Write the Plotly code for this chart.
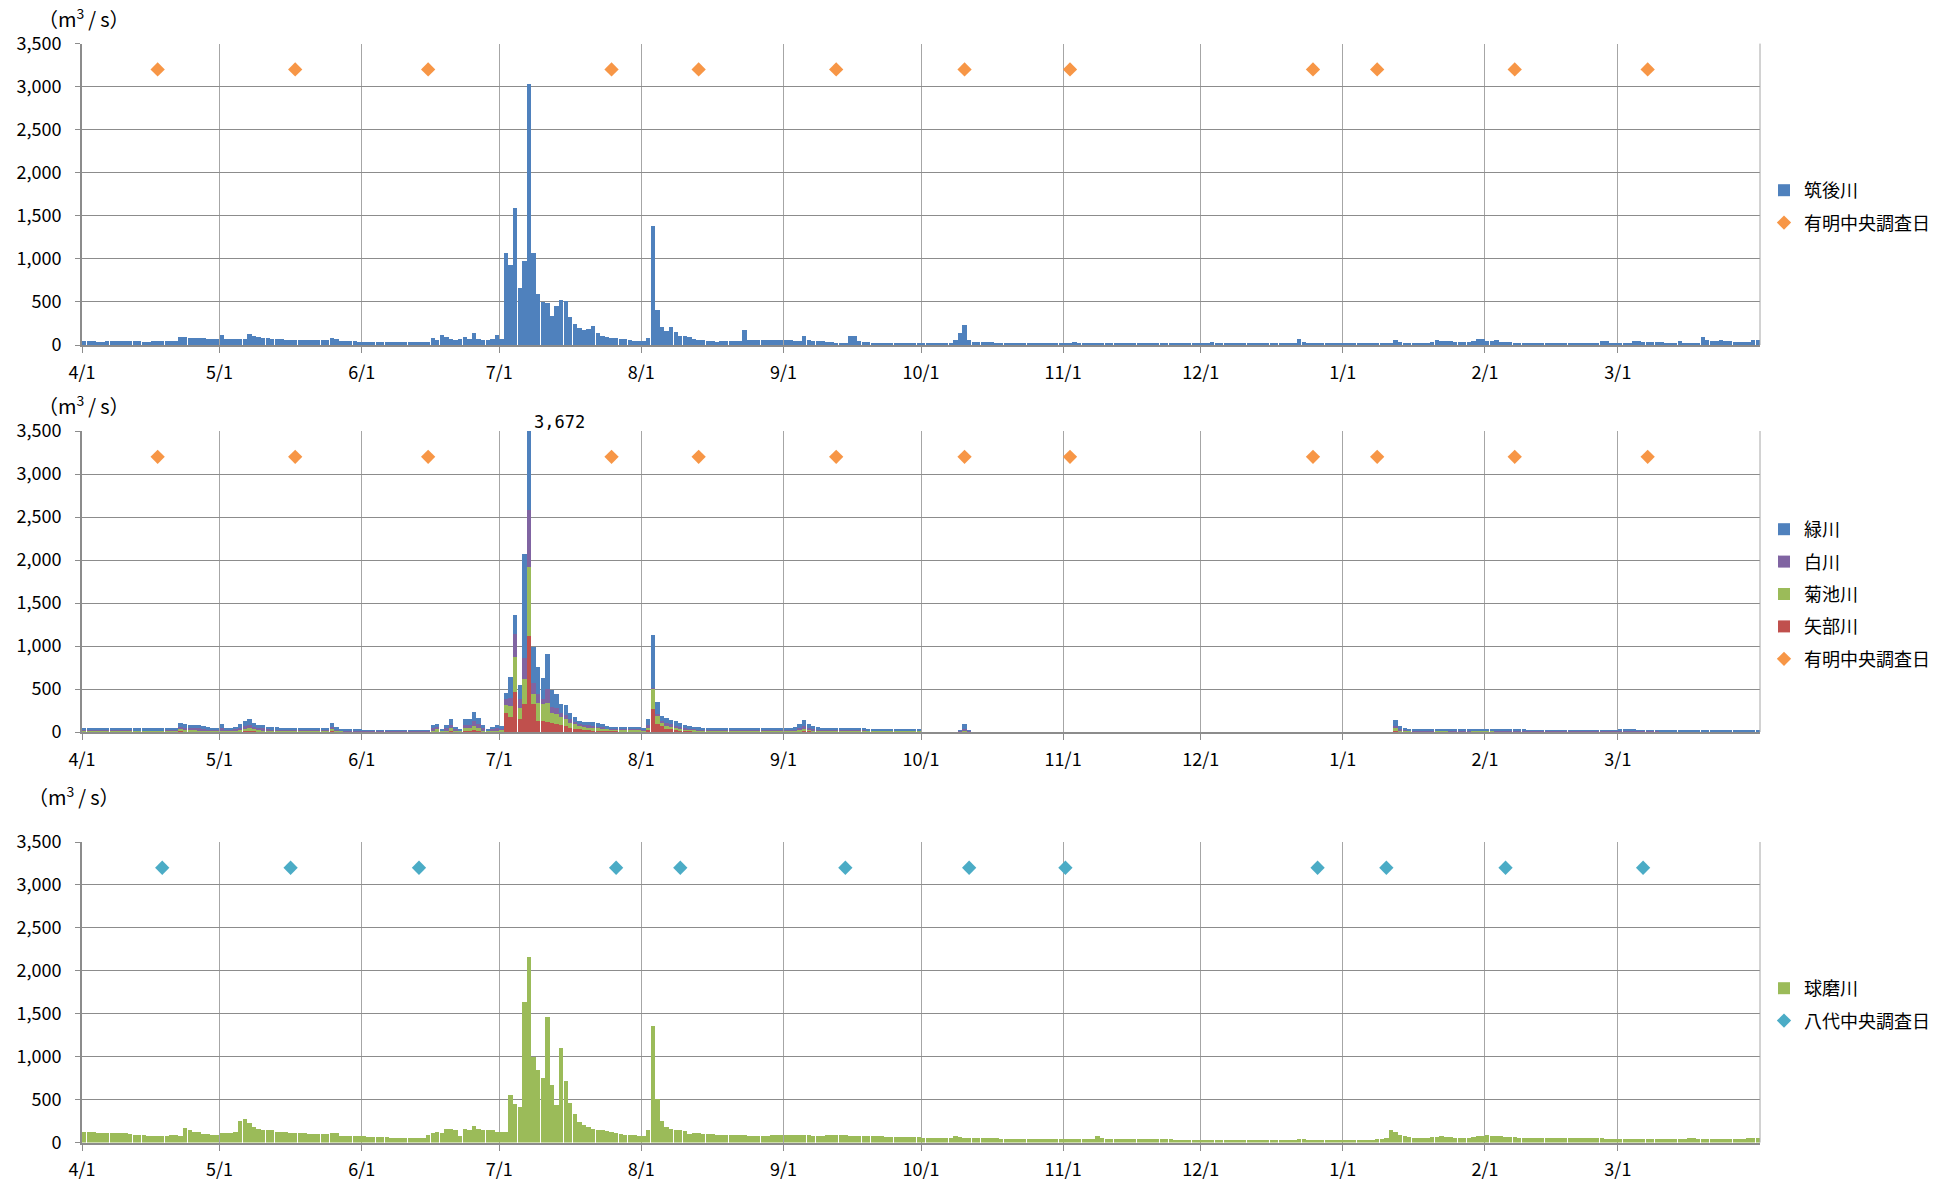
import pandas as pd
import plotly.graph_objects as go

# ---------------------------------------------------------------- data
# one fiscal year of daily mean discharge (m3/s), 4/1 .. 3/31 (366 days)
days = pd.date_range("2019-04-01", "2020-03-31", freq="D")

month_ticks = ["2019-04-01", "2019-05-01", "2019-06-01", "2019-07-01", "2019-08-01",
               "2019-09-01", "2019-10-01", "2019-11-01", "2019-12-01", "2020-01-01",
               "2020-02-01", "2020-03-01"]
month_labels = ["4/1", "5/1", "6/1", "7/1", "8/1", "9/1", "10/1", "11/1", "12/1",
                "1/1", "2/1", "3/1"]

# 筑後川
chikugo = (
    [42, 42, 41, 40, 40, 41, 42, 42, 43, 44, 44, 42, 41, 40, 40, 42, 44, 48, 50, 47,
     50, 95, 90, 86, 84, 80, 76, 72, 68, 66] +
    [120, 70, 65, 66, 68, 70, 124, 110, 92, 80, 85, 70, 70, 68, 60, 58, 57, 56, 55, 56,
     58, 60, 60, 60, 78, 70, 50, 48, 45, 42, 40] +
    [38, 36, 35, 35, 34, 33, 33, 33, 32, 32, 33, 34, 35, 36, 38, 85, 62, 120, 92, 65,
     62, 70, 97, 72, 143, 70, 58, 60, 65, 112] +
    [66, 1074, 934, 1593, 663, 973, 3035, 1066, 597, 496, 492, 341, 450, 523, 515, 330,
     244, 194, 174, 186, 225, 136, 108, 89, 85, 81, 74, 66, 58, 50, 47] +
    [43, 81, 1384, 407, 213, 167, 205, 147, 108, 108, 89, 70, 61, 58, 41, 41, 40, 41,
     42, 48, 50, 49, 175, 58, 56, 55, 54, 55, 57, 61, 61] +
    [55, 53, 52, 50, 106, 60, 52, 48, 45, 40, 32, 28, 28, 27, 102, 100, 41, 35, 30, 25,
     22, 21, 20, 20, 20, 20, 20, 20, 20, 20] +
    [20, 20, 20, 20, 20, 20, 22, 53, 142, 228, 57, 35, 33, 33, 32, 30, 25, 22, 20, 20,
     20, 20, 20, 20, 20, 20, 20, 20, 20, 20, 20] +
    [20, 20, 33, 20, 20, 20, 20, 20, 20, 20, 20, 20, 20, 20, 20, 20, 20, 20, 20, 20,
     20, 20, 20, 20, 20, 20, 20, 20, 20, 20] +
    [20, 20, 33, 20, 20, 20, 20, 20, 20, 20, 28, 28, 20, 20, 20, 20, 20, 20, 20, 20,
     20, 73, 40, 20, 20, 20, 20, 20, 20, 20, 20] +
    [20, 20, 20, 20, 20, 20, 20, 20, 20, 20, 20, 57, 33, 20, 20, 20, 20, 20, 20, 33,
     61, 45, 45, 45, 33, 33, 33, 33, 45, 65, 65] +
    [41, 41, 53, 37, 37, 37, 24, 24, 20, 20, 20, 20, 20, 20, 20, 20, 20, 20, 20, 20,
     20, 20, 20, 20, 20, 45, 45, 28, 20] +
    [28, 28, 28, 45, 45, 33, 33, 33, 33, 33, 28, 28, 28, 45, 28, 28, 28, 28, 90, 61,
     45, 45, 61, 45, 45, 33, 33, 33, 33, 61, 61]
)

# 矢部川
yabe = (
    [7, 7, 6, 6, 6, 6, 6, 6, 6, 6, 6, 5, 5, 5, 5, 5, 5, 5, 6, 6, 7, 12, 10, 9, 9, 8, 8,
     7, 7, 7] +
    [9, 7, 7, 7, 10, 14, 16, 12, 9, 9, 8, 7, 7, 7, 6, 6, 6, 6, 6, 6, 6, 6, 6, 8, 12, 7,
     5, 5, 4, 4, 4] +
    [4, 4, 4, 4, 3, 3, 3, 3, 3, 3, 3, 3, 3, 3, 3, 8, 10, 5, 8, 15, 6, 5, 15, 15, 20, 15,
     8, 5, 6, 8] +
    [10, 225, 175, 470, 148, 330, 1119, 322, 128, 128, 120, 109, 89, 82, 66, 50, 39, 31,
     23, 19, 17, 15, 14, 13, 12, 12, 11, 11, 10, 10, 10] +
    [8, 20, 264, 97, 70, 40, 30, 25, 20, 15, 12, 10, 9, 9, 8, 8, 8, 7, 7, 7, 7, 7, 7, 6,
     6, 6, 6, 6, 6, 6, 6] +
    [6, 6, 7, 10, 16, 12, 9, 8, 7, 7, 6, 6, 6, 6, 7, 7, 6, 6, 6, 6, 5, 5, 5, 5, 5, 5, 5,
     5, 5, 5] +
    [0, 0, 0, 0, 0, 0, 0, 0, 2, 5, 2, 0, 0, 0, 0, 0, 0, 0, 0, 0, 0, 0, 0, 0, 0, 0, 0, 0,
     0, 0, 0] +
    [0, 0, 0, 0, 0, 0, 0, 0, 0, 0, 0, 0, 0, 0, 0, 0, 0, 0, 0, 0, 0, 0, 0, 0, 0, 0, 0, 0,
     0, 0] +
    [0, 0, 0, 0, 0, 0, 0, 0, 0, 0, 0, 0, 0, 0, 0, 0, 0, 0, 0, 0, 0, 0, 0, 0, 0, 0, 0, 0,
     0, 0, 0] +
    [0, 0, 0, 0, 0, 0, 0, 0, 0, 0, 0, 15, 8, 6, 5, 4, 4, 4, 4, 4, 4, 5, 5, 4, 4, 4, 4, 4,
     4, 4, 5] +
    [5, 5, 4, 4, 4, 4, 4, 3, 3, 3, 3, 3, 3, 3, 3, 3, 3, 3, 3, 3, 3, 3, 3, 3, 3, 3, 3, 3,
     3] +
    [4, 4, 4, 4, 3, 3, 3, 3, 3, 2, 2, 2, 2, 2, 2, 2, 2, 2, 2, 2, 2, 2, 2, 2, 2, 2, 2, 2,
     2, 2, 2]
)

# 菊池川
kikuchi = (
    [10, 10, 10, 9, 9, 9, 9, 9, 9, 9, 9, 9, 8, 8, 8, 8, 8, 8, 9, 10, 10, 20, 16, 15, 15,
     14, 13, 10, 10, 10] +
    [14, 10, 10, 11, 18, 25, 28, 20, 15, 14, 12, 10, 10, 10, 9, 9, 9, 9, 9, 9, 9, 9, 8,
     10, 20, 10, 7, 6, 6, 6, 6] +
    [5, 5, 5, 5, 5, 4, 4, 4, 4, 4, 4, 4, 4, 4, 4, 15, 20, 8, 15, 30, 12, 8, 30, 30, 50,
     35, 15, 8, 12, 15] +
    [15, 86, 125, 404, 136, 284, 804, 117, 214, 202, 222, 109, 117, 93, 82, 59, 50, 39,
     35, 39, 35, 32, 28, 22, 20, 20, 19, 19, 18, 18, 17] +
    [14, 30, 241, 89, 39, 35, 30, 25, 20, 18, 16, 15, 14, 13, 13, 12, 12, 12, 11, 11, 11,
     11, 10, 10, 10, 10, 10, 10, 10, 10, 10] +
    [10, 10, 11, 16, 24, 18, 14, 12, 11, 10, 10, 9, 9, 9, 10, 10, 9, 9, 9, 9, 8, 8, 8, 8,
     8, 8, 8, 8, 7, 7] +
    [0, 0, 0, 0, 0, 0, 0, 0, 5, 15, 5, 0, 0, 0, 0, 0, 0, 0, 0, 0, 0, 0, 0, 0, 0, 0, 0, 0,
     0, 0, 0] +
    [0, 0, 0, 0, 0, 0, 0, 0, 0, 0, 0, 0, 0, 0, 0, 0, 0, 0, 0, 0, 0, 0, 0, 0, 0, 0, 0, 0,
     0, 0] +
    [0, 0, 0, 0, 0, 0, 0, 0, 0, 0, 0, 0, 0, 0, 0, 0, 0, 0, 0, 0, 0, 0, 0, 0, 0, 0, 0, 0,
     0, 0, 0] +
    [0, 0, 0, 0, 0, 0, 0, 0, 0, 0, 0, 30, 15, 10, 8, 7, 7, 7, 7, 7, 8, 8, 7, 7, 7, 7, 7,
     7, 8, 8, 8] +
    [8, 8, 7, 7, 7, 7, 6, 6, 6, 5, 5, 5, 5, 5, 5, 5, 5, 5, 5, 5, 5, 5, 5, 5, 5, 5, 5, 5,
     5] +
    [6, 6, 6, 6, 5, 5, 5, 5, 5, 4, 4, 4, 4, 4, 4, 4, 4, 4, 4, 4, 4, 4, 4, 4, 4, 4, 4, 4,
     4, 4, 4]
)

# 白川
shira = (
    [10, 10, 10, 10, 9, 9, 9, 9, 9, 9, 9, 9, 9, 9, 9, 9, 9, 9, 10, 10, 11, 30, 22, 20, 20,
     19, 17, 12, 11, 11] +
    [20, 10, 10, 12, 22, 30, 33, 25, 18, 20, 14, 12, 12, 11, 10, 10, 10, 10, 10, 10, 10,
     10, 10, 12, 30, 12, 8, 7, 6, 6, 6] +
    [5, 5, 5, 5, 5, 5, 5, 5, 5, 5, 5, 5, 5, 5, 5, 20, 25, 10, 20, 40, 15, 10, 40, 40, 60,
     45, 20, 10, 15, 20] +
    [15, 77, 90, 264, 97, 245, 653, 136, 97, 58, 155, 77, 70, 50, 50, 39, 31, 19, 24, 20,
     18, 16, 15, 10, 10, 10, 9, 9, 9, 9, 9] +
    [8, 30, 6, 20, 20, 30, 28, 25, 20, 15, 12, 11, 10, 10, 10, 10, 9, 9, 9, 9, 9, 9, 9, 9,
     9, 9, 9, 9, 9, 9, 9] +
    [9, 9, 10, 18, 30, 20, 14, 11, 10, 10, 9, 9, 9, 9, 10, 10, 9, 9, 8, 8, 8, 8, 8, 8, 8,
     8, 7, 7, 7, 7] +
    [0, 0, 0, 0, 0, 0, 0, 0, 5, 20, 5, 0, 0, 0, 0, 0, 0, 0, 0, 0, 0, 0, 0, 0, 0, 0, 0, 0,
     0, 0, 0] +
    [0, 0, 0, 0, 0, 0, 0, 0, 0, 0, 0, 0, 0, 0, 0, 0, 0, 0, 0, 0, 0, 0, 0, 0, 0, 0, 0, 0,
     0, 0] +
    [0, 0, 0, 0, 0, 0, 0, 0, 0, 0, 0, 0, 0, 0, 0, 0, 0, 0, 0, 0, 0, 0, 0, 0, 0, 0, 0, 0,
     0, 0, 0] +
    [0, 0, 0, 0, 0, 0, 0, 0, 0, 0, 0, 25, 12, 9, 8, 7, 7, 7, 7, 7, 7, 7, 7, 7, 7, 7, 7, 7,
     7, 7, 7] +
    [7, 7, 7, 7, 6, 6, 6, 6, 6, 5, 5, 5, 5, 5, 5, 5, 5, 5, 5, 5, 5, 5, 5, 5, 5, 5, 5, 5,
     5] +
    [6, 6, 6, 6, 5, 5, 5, 5, 5, 4, 4, 4, 4, 4, 4, 4, 4, 4, 4, 4, 4, 4, 4, 4, 4, 4, 4, 4,
     4, 4, 4]
)

# 緑川
midori = (
    [25, 22, 21, 20, 20, 20, 20, 20, 19, 19, 19, 19, 19, 19, 19, 19, 19, 19, 20, 22, 22,
     45, 40, 38, 36, 35, 33, 26, 22, 20] +
    [47, 20, 20, 30, 47, 59, 70, 48, 36, 42, 28, 25, 25, 24, 22, 21, 20, 20, 20, 19, 19,
     19, 18, 20, 46, 29, 12, 10, 10, 10, 10] +
    [8, 7, 7, 7, 7, 7, 7, 7, 7, 7, 7, 7, 7, 7, 7, 35, 42, 17, 35, 62, 25, 17, 62, 62, 102,
     72, 35, 17, 25, 35] +
    [25, 67, 251, 222, 163, 1212, 1096, 408, 322, 245, 408, 198, 163, 105, 113, 77, 55,
     39, 38, 42, 50, 38, 32, 20, 18, 18, 17, 17, 16, 15, 15] +
    [12, 68, 612, 144, 61, 62, 55, 50, 40, 30, 25, 22, 20, 19, 18, 18, 17, 17, 16, 16, 16,
     15, 15, 15, 15, 15, 15, 15, 15, 15, 15] +
    [25, 25, 27, 46, 70, 40, 28, 22, 20, 18, 17, 16, 16, 18, 20, 18, 16, 15, 15, 14, 14,
     13, 13, 13, 12, 12, 12, 12, 12, 12] +
    [0, 0, 0, 0, 0, 0, 0, 0, 10, 55, 10, 0, 0, 0, 0, 0, 0, 0, 0, 0, 0, 0, 0, 0, 0, 0, 0,
     0, 0, 0, 0] +
    [0, 0, 0, 0, 0, 0, 0, 0, 0, 0, 0, 0, 0, 0, 0, 0, 0, 0, 0, 0, 0, 0, 0, 0, 0, 0, 0, 0,
     0, 0] +
    [0, 0, 0, 0, 0, 0, 0, 0, 0, 0, 0, 0, 0, 0, 0, 0, 0, 0, 0, 0, 0, 0, 0, 0, 0, 0, 0, 0,
     0, 0, 0] +
    [0, 0, 0, 0, 0, 0, 0, 0, 0, 0, 0, 70, 35, 20, 15, 12, 12, 12, 12, 15, 20, 20, 15, 12,
     12, 12, 12, 12, 15, 18, 18] +
    [18, 16, 15, 14, 14, 12, 10, 10, 10, 9, 9, 9, 9, 9, 9, 9, 9, 9, 9, 9, 9, 9, 9, 9, 9,
     9, 9, 9, 9] +
    [12, 12, 12, 12, 10, 10, 10, 10, 8, 6, 6, 6, 6, 6, 6, 6, 6, 6, 6, 6, 6, 6, 6, 6, 6, 6,
     6, 6, 6, 6, 6]
)

# 球磨川
kuma = (
    [128, 128, 128, 110, 108, 108, 110, 112, 110, 108, 95, 93, 93, 92, 80, 78, 78, 76, 78,
     92, 93, 70, 174, 147, 128, 128, 100, 100, 85, 85] +
    [108, 116, 116, 128, 256, 279, 225, 178, 155, 147, 147, 147, 128, 128, 128, 116, 116,
     116, 116, 100, 100, 100, 100, 100, 108, 116, 70, 70, 70, 70, 70] +
    [78, 65, 62, 60, 60, 60, 58, 58, 56, 55, 54, 54, 54, 54, 89, 116, 128, 108, 163, 163,
     147, 78, 155, 140, 194, 155, 140, 140, 140, 128] +
    [128, 128, 550, 450, 411, 1640, 2155, 1000, 845, 756, 1465, 670, 438, 1097, 717, 457,
     330, 236, 205, 178, 163, 147, 140, 132, 128, 108, 100, 93, 85, 85, 78] +
    [78, 147, 1357, 504, 256, 186, 155, 147, 140, 132, 100, 108, 105, 100, 98, 95, 92, 90,
     88, 85, 85, 83, 82, 80, 80, 78, 76, 75, 90, 88, 85] +
    [85, 90, 92, 88, 85, 82, 80, 78, 80, 85, 88, 86, 84, 82, 80, 78, 76, 75, 74, 73, 72,
     70, 68, 66, 65, 64, 63, 62, 60, 60] +
    [58, 57, 56, 55, 55, 54, 54, 70, 60, 55, 52, 50, 50, 48, 48, 47, 47, 46, 46, 45, 45,
     44, 44, 44, 43, 43, 43, 42, 42, 42, 42] +
    [42, 41, 41, 41, 40, 40, 40, 78, 50, 45, 42, 40, 40, 39, 39, 38, 38, 38, 37, 37, 37,
     36, 36, 36, 35, 35, 35, 35, 34, 34] +
    [34, 34, 33, 33, 33, 33, 32, 32, 32, 32, 35, 34, 33, 33, 32, 32, 32, 31, 31, 31, 31,
     40, 38, 35, 34, 33, 33, 32, 32, 32, 32] +
    [32, 32, 32, 32, 32, 32, 35, 40, 45, 50, 150, 120, 90, 70, 60, 55, 52, 50, 55, 60, 65,
     70, 65, 60, 58, 56, 55, 55, 60, 75, 80] +
    [90, 80, 75, 70, 65, 62, 60, 58, 56, 55, 54, 53, 52, 52, 51, 50, 50, 50, 49, 49, 48,
     48, 48, 47, 47, 47, 46, 46, 46] +
    [46, 45, 45, 45, 45, 45, 44, 44, 44, 44, 44, 44, 44, 44, 44, 50, 48, 46, 45, 45, 44,
     44, 44, 43, 43, 43, 43, 43, 55, 58, 52]
)

# survey days
ariake_days = ["2019-04-17", "2019-05-17", "2019-06-15", "2019-07-25", "2019-08-13",
               "2019-09-12", "2019-10-10", "2019-11-02", "2019-12-25", "2020-01-08",
               "2020-02-07", "2020-03-07"]
yatsushiro_days = ["2019-04-18", "2019-05-16", "2019-06-13", "2019-07-26", "2019-08-09",
                   "2019-09-14", "2019-10-11", "2019-11-01", "2019-12-26", "2020-01-10",
                   "2020-02-05", "2020-03-06"]
survey_level = 3200

# ---------------------------------------------------------------- style
BLUE, PURPLE, GREEN, RED = "#4F81BD", "#8064A2", "#9BBB59", "#C0504D"
ORANGE, CYAN = "#F79646", "#4BACC6"
FONT = "Noto Sans CJK JP"
W, H = 1953, 1181

x_mid = days + pd.Timedelta(hours=12)
DAY_MS = 86400000

def px_y(top, bottom):
    return [1 - bottom / H, 1 - top / H]

panels = [px_y(43.6, 345.0), px_y(431.0, 732.0), px_y(842.0, 1142.5)]

fig = go.Figure()

def bar(name, values, color, k, legend, rank):
    fig.add_trace(go.Bar(
        x=x_mid, y=values, name=name, marker=dict(color=color, line=dict(width=0)),
        width=0.95 * DAY_MS, xaxis=f"x{k}", yaxis=f"y{k}", legend=legend,
        legendgroup=f"{legend}-{name}", legendrank=rank, hoverinfo="x+y+name"))

def survey(name, dates, color, k, legend, rank):
    fig.add_trace(go.Scatter(
        x=pd.to_datetime(dates) + pd.Timedelta(hours=12), y=[survey_level] * len(dates),
        name=name, mode="markers",
        marker=dict(symbol="diamond", size=11, color=color, line=dict(width=0)),
        xaxis=f"x{k}", yaxis=f"y{k}", legend=legend,
        legendgroup=f"{legend}-{name}", legendrank=rank))

# panel 1
bar("筑後川", chikugo, BLUE, "", "legend", 1)
survey("有明中央調査日", ariake_days, ORANGE, "", "legend", 2)
# panel 2 (stacked bottom-up)
bar("矢部川", yabe, RED, "2", "legend2", 4)
bar("菊池川", kikuchi, GREEN, "2", "legend2", 3)
bar("白川", shira, PURPLE, "2", "legend2", 2)
bar("緑川", midori, BLUE, "2", "legend2", 1)
survey("有明中央調査日", ariake_days, ORANGE, "2", "legend2", 5)
# panel 3
bar("球磨川", kuma, GREEN, "3", "legend3", 1)
survey("八代中央調査日", yatsushiro_days, CYAN, "3", "legend3", 2)

axis_font = dict(family=FONT, size=18, color="#000000")
x_common = dict(
    type="date", range=["2019-04-01", "2020-04-01"], tickvals=month_ticks,
    ticktext=month_labels, showgrid=True, gridcolor="#A6A6A6", gridwidth=1,
    showline=True, linecolor="#8C8C8C", linewidth=2, ticks="outside", ticklen=6,
    tickcolor="#8C8C8C", tickwidth=1, tickfont=axis_font, ticklabelstandoff=4,
    zeroline=False, domain=[82 / W, 1760 / W], fixedrange=True, automargin=False,
)
y_common = dict(
    range=[0, 3500], tickvals=list(range(0, 3501, 500)), tickformat=",d",
    showgrid=True, gridcolor="#8C8C8C", gridwidth=1, showline=True,
    linecolor="#8C8C8C", linewidth=2, ticks="outside", ticklen=5, tickcolor="#8C8C8C",
    tickfont=axis_font, ticklabelstandoff=10, zeroline=False, fixedrange=True,
    automargin=False,
)

layout = dict(
    width=W, height=H, margin=dict(l=0, r=0, t=0, b=0, autoexpand=False),
    paper_bgcolor="white", plot_bgcolor="white", barmode="stack", bargap=0.05,
    font=dict(family=FONT, color="#000000"),
)
for i, dom in enumerate(panels):
    k = "" if i == 0 else str(i + 1)
    layout[f"xaxis{k}"] = dict(x_common, anchor=f"y{k}")
    layout[f"yaxis{k}"] = dict(y_common, anchor=f"x{k}", domain=dom)

legend_common = dict(
    x=1764 / W, xanchor="left", yanchor="top", bgcolor="rgba(0,0,0,0)",
    font=dict(family=FONT, size=18, color="#000000"), tracegroupgap=6,
    itemclick=False, itemdoubleclick=False,
)
layout["legend"] = dict(legend_common, y=1 - 172 / H)
layout["legend2"] = dict(legend_common, y=1 - 511 / H)
layout["legend3"] = dict(legend_common, y=1 - 970 / H)

fig.update_layout(**layout)

# right-hand border of each plot area
for i in range(3):
    k = "" if i == 0 else str(i + 1)
    fig.add_shape(type="line", xref=f"x{k} domain", yref=f"y{k} domain",
                  x0=1, x1=1, y0=0, y1=1, line=dict(color="#A6A6A6", width=1))

# unit labels
for xpx, ypx in [(36, 18), (36, 405), (26, 796)]:
    fig.add_annotation(xref="paper", yref="paper", x=xpx / W, y=1 - ypx / H,
                       xanchor="left", yanchor="middle", showarrow=False,
                       text="（m<sup>3</sup>\u2009/\u2009s）",
                       font=dict(family=FONT, size=20, color="#000000"))

# value label for the clipped peak of the stacked bars
totals = [a + b + c + d for a, b, c, d in zip(yabe, kikuchi, shira, midori)]
peak_i = max(range(len(totals)), key=lambda i: totals[i])
fig.add_annotation(xref="x2", yref="y2", x=x_mid[peak_i], y=3500, xanchor="left",
                   yanchor="bottom", xshift=3, yshift=-3, showarrow=False,
                   text=f"{totals[peak_i]:,}",
                   font=dict(family="DejaVu Sans Mono", size=17, color="#000000"))

fig.write_html("out.html")
